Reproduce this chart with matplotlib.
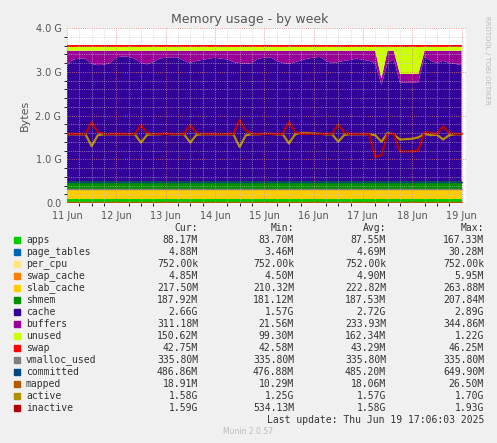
import matplotlib
matplotlib.use("Agg")
import matplotlib.pyplot as plt
import numpy as np

# hours since 11 Jun 00:00, one reading every 3 hours
hours = list(range(0, 195, 3))

# values in MB unless noted
apps = [88] * 65
page_tables = [5] * 65
per_cpu = [0.75] * 65
swap_cache = [5] * 65
slab_cache = [218] * 65
shmem = [188] * 65
# top edge of the cache area, in G
cache_top = [3.15, 3.28, 3.30, 3.30, 3.18, 3.15, 3.16, 3.20,
             3.33, 3.35, 3.34, 3.30, 3.20, 3.17, 3.22, 3.30,
             3.32, 3.33, 3.33, 3.25, 3.20, 3.25, 3.27, 3.30,
             3.32, 3.30, 3.28, 3.22, 3.20, 3.18, 3.20, 3.30,
             3.32, 3.33, 3.25, 3.20, 3.18, 3.22, 3.26, 3.30,
             3.32, 3.34, 3.25, 3.20, 3.22, 3.25, 3.27, 3.30,
             3.27, 3.25, 3.20, 2.70, 3.20, 3.28, 2.75, 2.75,
             2.75, 2.76, 3.35, 3.25, 3.20, 3.25, 3.20, 3.18, 3.15]
# top edge of buffers, in G
buffers_top = [3.48] * 51 + [2.85, 3.48, 3.48, 2.95, 2.95, 2.95, 2.95] + [3.48] * 7
unused_top = [3.57] * 65
swap = [43] * 65
vmalloc_used = [336] * 65
committed = [487] * 65
mapped = [19] * 65
active = [1.57, 1.57, 1.57, 1.57, 1.30, 1.55, 1.57, 1.57,
          1.57, 1.57, 1.57, 1.57, 1.38, 1.56, 1.57, 1.57,
          1.58, 1.57, 1.57, 1.57, 1.38, 1.56, 1.57, 1.57,
          1.57, 1.57, 1.57, 1.57, 1.28, 1.55, 1.57, 1.57,
          1.58, 1.58, 1.57, 1.57, 1.36, 1.57, 1.60, 1.60,
          1.59, 1.58, 1.57, 1.57, 1.40, 1.56, 1.57, 1.57,
          1.57, 1.57, 1.55, 1.40, 1.60, 1.57, 1.45, 1.46,
          1.47, 1.50, 1.58, 1.55, 1.56, 1.45, 1.55, 1.57, 1.57]
inactive = [1.58, 1.58, 1.58, 1.58, 1.85, 1.62, 1.58, 1.58,
            1.58, 1.58, 1.58, 1.58, 1.78, 1.60, 1.58, 1.58,
            1.58, 1.58, 1.58, 1.58, 1.78, 1.60, 1.58, 1.58,
            1.58, 1.58, 1.58, 1.58, 1.90, 1.65, 1.58, 1.58,
            1.58, 1.58, 1.58, 1.58, 1.85, 1.62, 1.58, 1.58,
            1.58, 1.58, 1.58, 1.58, 1.80, 1.60, 1.58, 1.58,
            1.58, 1.58, 1.05, 1.10, 1.58, 1.58, 1.18, 1.18,
            1.18, 1.20, 1.62, 1.60, 1.58, 1.75, 1.60, 1.58, 1.58]

names = ["apps", "page_tables", "per_cpu", "swap_cache", "slab_cache", "shmem",
         "cache", "buffers", "unused", "swap", "vmalloc_used", "committed",
         "mapped", "active", "inactive"]
colors = ["#00CC00", "#0066B3", "#FFE680", "#FF8000", "#FFCC00", "#008F00",
          "#330099", "#990099", "#CCFF00", "#FF0000", "#808080", "#00487D",
          "#B35A00", "#B38F00", "#B30000"]
cur = ["88.17M", "4.88M", "752.00k", "4.85M", "217.50M", "187.92M", "2.66G", "311.18M",
       "150.62M", "42.75M", "335.80M", "486.86M", "18.91M", "1.58G", "1.59G"]
mins = ["83.70M", "3.46M", "752.00k", "4.50M", "210.32M", "181.12M", "1.57G", "21.56M",
        "99.30M", "42.58M", "335.80M", "476.88M", "10.29M", "1.25G", "534.13M"]
avgs = ["87.55M", "4.69M", "752.00k", "4.90M", "222.82M", "187.53M", "2.72G", "233.93M",
        "162.34M", "43.29M", "335.80M", "485.20M", "18.06M", "1.57G", "1.58G"]
maxs = ["167.33M", "30.28M", "752.00k", "5.95M", "263.88M", "207.84M", "2.89G", "344.86M",
        "1.22G", "46.25M", "335.80M", "649.90M", "26.50M", "1.70G", "1.93G"]

t = np.array(hours) / 24.0
G = 1024.0
low = np.vstack([apps, page_tables, per_cpu, swap_cache, slab_cache, shmem]) / G
base = low.sum(axis=0)
cache = np.array(cache_top) - base
buffers = np.array(buffers_top) - np.array(cache_top)
unused = np.array(unused_top) - np.array(buffers_top)
stack = list(low) + [cache, buffers, unused, np.array(swap) / G]

fig = plt.figure(figsize=(4.97, 4.43), dpi=100, facecolor="#F0F0F0")
ax = fig.add_axes([67/497, 1 - 203/443, 399/497, 175/443])
ax.set_facecolor("white")
ax.stackplot(t, *stack, colors=colors[:10], linewidth=0)
ax.plot(t, np.array(vmalloc_used) / G, color=colors[10], lw=1)
ax.plot(t, np.array(committed) / G, color=colors[11], lw=1)
ax.plot(t, np.array(mapped) / G, color=colors[12], lw=1)
ax.plot(t, active, color=colors[13], lw=1.6)
ax.plot(t, inactive, color=colors[14], lw=1.6)

ax.set_xlim(0, 8.09)
ax.set_ylim(0, 4.0)
ax.set_yticks([0, 1, 2, 3, 4])
ax.set_yticklabels(["0.0", "1.0 G", "2.0 G", "3.0 G", "4.0 G"])
ax.set_xticks(range(9))
ax.set_xticklabels([f"{d} Jun" for d in range(11, 20)])
ax.set_yticks(np.arange(0, 4.0, 0.2), minor=True)
ax.set_xticks(np.arange(0, 8.1, 0.25), minor=True)
ax.grid(which="minor", color="#C8C8C8", ls=":", lw=0.5)
ax.grid(which="major", color="#E08080", ls=":", lw=0.6)
ax.set_axisbelow(False)
ax.tick_params(labelsize=7, colors="#555555", length=0)
ax.tick_params(axis="x", pad=6)
ax.tick_params(axis="y", pad=4)
for s in ax.spines.values():
    s.set_visible(False)
ax.set_ylabel("Bytes", fontsize=8, color="#555555")

fig.text(250/497, 1 - 19/443, "Memory usage - by week", ha="center", va="center",
         fontsize=9, color="#555555")
fig.text(487/497, 1 - 60/443, "RRDTOOL / TOBI OETIKER", rotation=270, ha="center",
         va="center", fontsize=5, color="#BBBBBB")

mono = dict(family="DejaVu Sans Mono", fontsize=7, color="#333333", va="center")
cols = [198, 294, 386, 484]
for x, h in zip(cols, ["Cur:", "Min:", "Avg:", "Max:"]):
    fig.text(x/497, 1 - 228/443, h, ha="right", **mono)
for i, n in enumerate(names):
    y = 1 - (240 + 12 * i) / 443
    fig.patches.append(plt.Rectangle((14/497, y - 3/443), 6/497, 6/443,
                                     transform=fig.transFigure, color=colors[i]))
    fig.text(26/497, y, n, ha="left", **mono)
    for x, v in zip(cols, [cur[i], mins[i], avgs[i], maxs[i]]):
        fig.text(x/497, y, v, ha="right", **mono)
fig.text(484/497, 1 - 420/443, "Last update: Thu Jun 19 17:06:03 2025", ha="right", **mono)
fig.text(248/497, 1 - 432/443, "Munin 2.0.57", ha="center", va="center",
         fontsize=5.5, color="#BBBBBB")

fig.savefig("out.png", dpi=100, facecolor=fig.get_facecolor())
